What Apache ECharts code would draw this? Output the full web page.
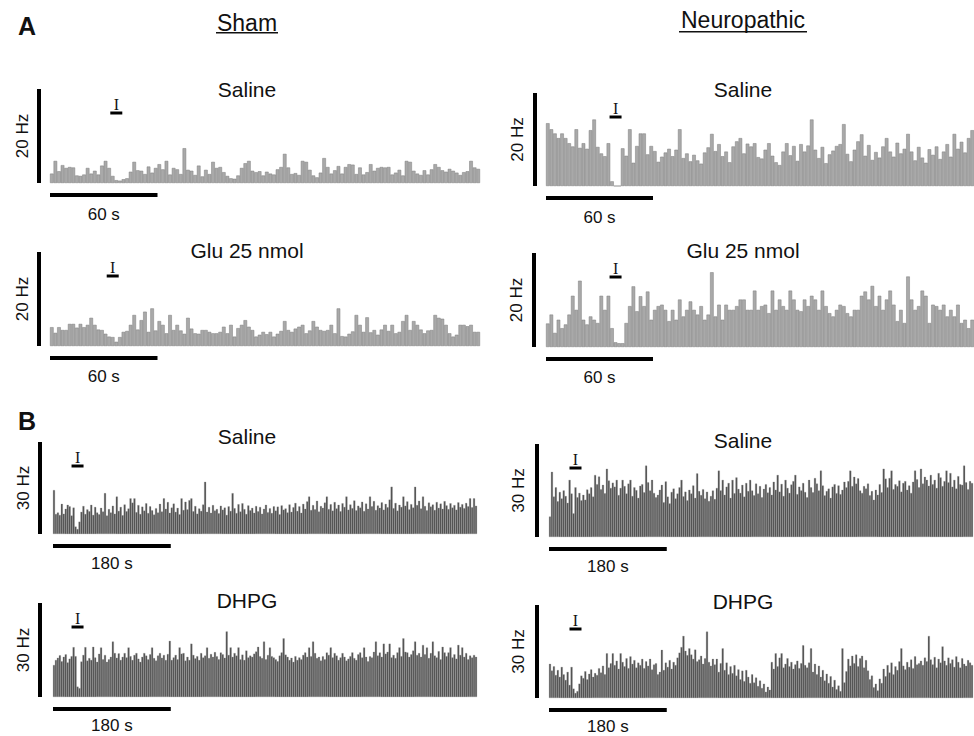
<!DOCTYPE html>
<html>
<head>
<meta charset="utf-8">
<script src="https://cdn.jsdelivr.net/npm/echarts@6.0.0/dist/echarts.min.js"></script>
<style>
  html, body { margin: 0; padding: 0; background: #fff; }
  #chart { width: 974px; height: 736px; }
</style>
</head>
<body>
<div id="chart"></div>
<script>
// firing rate (Hz) per bin, 2 s bins in A, 3 s bins in B
var shamSalineA = [
  2.0, 4.7, 2.5, 3.8, 3.2, 3.4, 3.3, 1.6, 1.5, 1.8,
  3.2, 2.0, 2.6, 1.8, 3.7, 4.7, 3.2, 1.5, 0.6, 0.5,
  0.8, 1.0, 2.4, 4.5, 2.7, 2.6, 1.9, 3.5, 2.2, 3.2,
  4.0, 2.9, 4.7, 1.8, 3.2, 2.9, 1.9, 7.4, 2.8, 2.6,
  1.7, 3.7, 1.4, 2.8, 1.9, 4.5, 3.2, 3.4, 2.3, 1.5,
  1.0, 0.9, 1.6, 3.2, 4.2, 4.7, 2.6, 2.3, 2.5, 1.6,
  2.4, 2.0, 1.8, 2.9, 3.4, 6.2, 3.3, 1.9, 2.1, 1.7,
  4.7, 4.5, 2.8, 1.6, 1.2, 2.2, 5.3, 3.4, 2.0, 2.7,
  3.6, 2.0, 3.4, 4.0, 3.9, 1.9, 3.3, 1.8, 2.3, 4.0,
  2.6, 3.2, 3.4, 3.3, 3.4, 1.8, 2.2, 2.8, 1.6, 4.7,
  4.5, 2.6, 2.0, 1.7, 2.7, 1.8, 2.9, 4.0, 3.4, 2.7,
  2.4, 3.0, 2.6, 2.2, 1.7, 2.3, 2.5, 4.7, 3.3, 3.0
];
var neuroSalineA = [
  13.5, 12.2, 11.3, 10.3, 11.3, 10.3, 9.2, 8.5, 12.2, 8.2,
  9.2, 8.0, 12.0, 14.3, 8.4, 7.0, 6.4, 9.2, 1.0, 0,
  0, 8.1, 6.5, 12.2, 5.0, 8.6, 11.3, 11.3, 6.8, 8.6,
  7.5, 5.2, 6.3, 7.2, 8.0, 6.4, 7.8, 12.2, 6.0, 7.0,
  5.3, 6.7, 5.5, 4.8, 7.2, 8.3, 11.2, 7.5, 9.0, 6.4,
  7.4, 5.1, 8.5, 9.6, 10.3, 7.0, 9.1, 8.5, 9.2, 6.2,
  5.9, 7.8, 9.2, 6.5, 5.1, 4.5, 7.4, 9.2, 6.6, 8.6,
  5.4, 9.0, 7.4, 8.7, 14.3, 7.8, 6.0, 8.4, 4.9, 6.8,
  7.6, 8.6, 9.0, 13.3, 6.9, 5.3, 7.8, 9.6, 11.1, 6.5,
  8.8, 5.6, 7.3, 6.1, 8.5, 10.3, 7.4, 6.3, 9.3, 7.0,
  8.0, 11.2, 7.4, 5.5, 8.4, 6.1, 5.0, 7.9, 6.7, 8.5,
  5.8, 7.4, 9.0, 6.3, 11.2, 8.0, 9.5, 7.2, 10.3, 12.0
];
var shamGluA = [
  4.0, 2.8, 4.0, 3.4, 3.4, 4.7, 4.7, 3.9, 4.7, 4.0,
  4.5, 6.0, 4.5, 3.5, 3.4, 2.6, 2.0, 1.9, 0.9, 1.9,
  3.0, 3.2, 4.5, 6.6, 3.5, 5.5, 7.3, 3.0, 8.0, 3.3,
  5.3, 4.5, 2.7, 6.6, 3.4, 4.5, 3.3, 2.6, 6.0, 3.7,
  2.7, 2.6, 3.4, 3.4, 3.0, 2.7, 2.7, 3.0, 4.1, 2.7,
  4.5, 2.0, 3.8, 4.5, 5.5, 4.1, 3.4, 2.0, 2.4, 3.0,
  2.5, 3.0, 2.0, 2.6, 3.2, 5.3, 3.4, 3.0, 3.7, 4.1,
  4.5, 2.7, 3.3, 5.3, 4.1, 3.4, 3.2, 3.4, 4.5, 2.7,
  8.0, 2.1, 2.0, 2.6, 3.1, 6.6, 4.5, 3.0, 6.1, 2.9,
  3.4, 2.4, 3.5, 4.5, 3.2, 4.5, 2.7, 3.0, 5.3, 6.6,
  3.4, 5.3, 4.5, 3.5, 2.7, 3.3, 3.4, 6.6, 6.0, 5.8,
  4.5, 2.7, 2.0, 2.4, 4.5, 4.5, 4.2, 4.5, 3.0, 3.0
];
var neuroGluA = [
  5.0, 6.9, 3.0, 5.8, 4.0, 4.8, 6.9, 10.9, 7.9, 14.1,
  5.8, 4.8, 6.5, 5.8, 5.1, 10.9, 7.9, 10.9, 4.0, 1.0,
  0.8, 0.8, 5.1, 8.7, 12.9, 7.6, 10.8, 8.7, 11.8, 5.8,
  7.9, 8.7, 9.0, 7.9, 5.5, 7.9, 5.8, 10.1, 6.5, 7.9,
  9.7, 7.9, 6.9, 8.7, 5.8, 6.9, 15.9, 6.5, 9.0, 5.8,
  9.0, 7.9, 7.9, 8.7, 10.1, 10.1, 7.9, 7.9, 12.0, 7.9,
  8.7, 9.0, 7.2, 12.0, 7.9, 10.1, 8.7, 7.9, 12.0, 10.1,
  7.9, 7.6, 10.1, 8.7, 10.9, 10.1, 7.9, 12.0, 8.7, 7.2,
  6.5, 7.9, 9.0, 8.7, 7.2, 6.5, 7.9, 7.9, 10.9, 11.8,
  10.1, 13.0, 8.7, 10.9, 7.9, 10.1, 12.0, 9.0, 5.5, 7.9,
  5.1, 15.0, 10.1, 7.9, 8.7, 12.0, 10.9, 5.1, 9.0, 8.7,
  7.9, 9.0, 6.5, 7.9, 6.5, 9.0, 5.1, 5.8, 4.0, 5.8
];
var shamSalineB = [
  14.3, 6.5, 7.0, 6.2, 9.8, 6.6, 8.2, 9.5, 9.0, 6.0, 8.6, 2.4,
  1.6, 4.0, 7.2, 9.1, 6.5, 8.0, 7.4, 9.5, 6.2, 8.8, 7.0, 6.4,
  8.5, 7.3, 13.3, 6.0, 8.1, 7.0, 9.2, 6.6, 12.2, 7.5, 8.8, 6.1,
  9.6, 7.4, 8.3, 11.6, 10.2, 11.6, 7.1, 9.4, 6.5, 8.9, 7.6, 10.0,
  6.8, 9.0, 7.7, 6.3, 8.4, 7.0, 9.8, 7.3, 11.6, 8.2, 10.4, 6.9,
  8.6, 9.9, 7.2, 8.5, 6.4, 11.6, 7.8, 10.5, 8.0, 11.0, 11.6, 7.4,
  9.1, 6.6, 8.3, 7.5, 9.6, 17.0, 7.2, 8.8, 6.9, 9.4, 7.6, 8.1,
  6.7, 9.2, 7.9, 8.6, 6.2, 9.0, 7.5, 13.3, 8.4, 6.8, 9.7, 7.3,
  10.0, 8.1, 6.5, 9.3, 7.7, 8.5, 6.9, 9.1, 7.4, 8.8, 6.6, 8.2,
  9.5, 7.1, 8.4, 6.8, 9.0, 7.6, 8.9, 6.4, 9.3, 7.9, 8.3, 7.0,
  9.6, 7.2, 8.7, 10.1, 7.5, 9.0, 6.9, 9.8, 8.2, 10.6, 12.2, 7.8,
  9.4, 8.0, 10.8, 7.3, 9.1, 8.5, 10.2, 12.2, 8.1, 9.7, 7.6, 10.4,
  8.3, 9.5, 7.4, 10.0, 8.8, 12.2, 7.9, 9.6, 8.4, 10.9, 7.7, 9.2,
  8.6, 10.5, 7.5, 9.9, 8.2, 12.2, 9.0, 10.7, 7.8, 9.3, 8.5, 10.3,
  7.9, 9.8, 8.7, 11.2, 15.4, 8.4, 10.1, 7.6, 9.5, 8.8, 12.2, 9.2,
  10.6, 8.0, 9.7, 8.6, 15.4, 9.4, 10.8, 8.3, 12.2, 9.1, 7.7, 10.2,
  8.9, 9.6, 7.8, 10.4, 8.5, 9.9, 8.2, 10.7, 9.3, 8.1, 10.0, 8.6,
  9.4, 7.9, 10.3, 8.8, 9.7, 8.4, 10.1, 9.0, 11.6, 8.7, 11.6, 9.2
];
var neuroSalineB = [
  6.6, 21.0, 13.0, 16.0, 11.5, 14.5, 12.4, 15.0, 13.2, 11.0, 18.4, 14.0,
  7.6, 16.0, 12.8, 14.2, 11.8, 13.6, 12.0, 15.3, 14.0, 16.0, 13.0, 20.0,
  17.0, 19.5, 15.4, 16.8, 14.1, 22.0, 18.2, 15.8, 17.5, 16.2, 18.4, 13.5,
  15.8, 18.4, 16.4, 14.0, 17.2, 18.4, 13.2, 16.0, 15.1, 12.6, 16.5, 17.0,
  14.4, 23.0, 17.6, 15.0, 18.4, 14.2, 12.8, 13.6, 15.2, 16.8, 11.2, 17.9,
  13.0, 10.8, 14.5, 15.6, 12.4, 14.0, 16.0, 18.4, 13.1, 14.6, 11.8, 15.2,
  14.0, 16.6, 12.6, 20.5, 14.8, 13.5, 15.4, 12.4, 14.6, 11.6, 13.2, 15.0,
  12.2, 15.8, 21.4, 15.0, 18.4, 13.6, 16.2, 17.4, 12.6, 18.4, 14.1, 19.2,
  15.5, 14.2, 16.8, 13.0, 17.4, 14.8, 18.4, 15.0, 13.4, 17.2, 14.0, 16.4,
  12.8, 15.5, 17.0, 14.3, 16.0, 13.6, 17.8, 15.2, 20.0, 14.6, 17.1, 13.2,
  18.4, 15.8, 14.2, 16.9, 18.0, 20.0, 13.8, 16.2, 15.0, 17.4, 14.5, 12.8,
  18.4, 16.0, 14.4, 19.0, 17.2, 15.0, 21.4, 16.6, 13.4, 14.8, 15.6, 12.6,
  16.2, 17.0, 14.1, 16.6, 13.8, 15.2, 17.8, 16.0, 18.0, 21.4, 16.4, 19.4,
  17.2, 18.9, 15.0, 14.2, 16.4, 15.6, 17.2, 13.4, 14.8, 12.0, 15.2, 13.6,
  17.0, 14.4, 22.0, 18.8, 16.0, 19.0, 21.4, 15.4, 17.0, 16.4, 18.2, 14.6,
  17.4, 18.0, 15.2, 16.6, 14.2, 17.8, 21.4, 18.6, 16.0, 22.0, 17.2, 19.4,
  18.4, 16.5, 20.0, 17.0, 18.4, 15.8, 20.6, 19.2, 16.4, 18.0, 21.4, 17.6,
  20.6, 16.2, 18.4, 15.6, 19.6, 17.0, 16.8, 23.0, 17.6, 15.4, 18.0, 17.4
];
var shamDhpgB = [
  10.2, 11.8, 12.5, 13.3, 11.4, 12.8, 13.6, 11.0, 12.2, 13.0, 15.9, 13.0,
  3.3, 2.8, 11.3, 13.4, 15.9, 11.6, 12.4, 11.8, 16.0, 12.6, 11.2, 13.8,
  15.8, 12.0, 13.4, 11.2, 12.0, 12.8, 17.7, 14.0, 12.5, 13.9, 11.8, 12.8,
  14.0, 12.6, 15.8, 13.0, 11.8, 13.4, 14.0, 12.2, 11.2, 12.8, 14.0, 13.2,
  12.0, 13.6, 15.8, 12.4, 11.6, 13.2, 14.0, 12.5, 13.4, 11.8, 13.7, 17.9,
  11.8, 12.6, 13.4, 12.0, 15.8, 13.8, 14.0, 11.6, 12.8, 11.8, 17.0, 13.4,
  12.3, 13.0, 11.8, 14.0, 12.6, 13.2, 15.8, 12.4, 13.7, 12.8, 14.3, 13.0,
  12.0, 14.2, 13.6, 12.5, 20.9, 13.4, 15.8, 12.8, 14.0, 13.2, 15.8, 12.0,
  13.5, 11.8, 14.8, 12.6, 13.2, 12.8, 13.8, 14.5, 16.0, 13.0, 12.4, 17.7,
  12.0, 13.4, 15.8, 13.0, 12.6, 12.0, 11.4, 13.2, 14.2, 18.7, 13.5, 12.8,
  11.8, 12.5, 11.2, 13.0, 11.8, 12.6, 12.0, 13.4, 14.2, 12.8, 15.8, 13.0,
  17.7, 14.0, 12.4, 12.8, 11.6, 13.0, 12.0, 14.2, 13.4, 15.8, 12.6, 14.0,
  13.2, 11.8, 12.6, 14.0, 12.8, 11.6, 12.2, 13.0, 14.2, 12.4, 11.8, 13.6,
  14.2, 12.6, 15.8, 12.8, 11.4, 13.0, 12.6, 14.4, 17.7, 13.2, 14.2, 12.8,
  17.0, 13.8, 14.4, 17.0, 12.6, 13.4, 12.4, 14.2, 15.8, 13.0, 18.7, 14.4,
  14.2, 12.8, 13.6, 14.8, 17.7, 13.4, 14.0, 12.8, 16.6, 13.6, 15.8, 12.4,
  14.0, 17.7, 13.2, 12.6, 14.6, 12.0, 16.0, 14.2, 13.0, 14.2, 15.8, 12.6,
  13.6, 12.2, 16.6, 13.4, 15.8, 12.8, 14.0, 12.0, 13.2, 12.6, 13.4, 12.8
];
var neuroDhpgB = [
  11.0, 8.8, 10.2, 7.4, 9.0, 6.8, 10.0, 7.6, 5.8, 8.4, 4.2, 10.0,
  3.0, 1.6, 2.2, 4.6, 7.2, 6.4, 8.6, 6.0, 7.8, 9.2, 6.8, 8.0,
  7.4, 9.6, 8.2, 10.4, 7.6, 14.4, 9.8, 11.2, 14.4, 10.6, 12.0, 9.4,
  14.4, 11.6, 10.2, 12.8, 9.6, 13.4, 11.0, 12.2, 9.8, 11.4, 10.6, 12.6,
  9.6, 11.8, 10.4, 12.6, 9.2, 10.8, 11.2, 7.6, 8.4, 15.5, 9.0, 11.4,
  10.0, 12.2, 9.4, 11.6, 10.6, 13.0, 14.6, 16.4, 20.0, 15.2, 13.8, 16.0,
  14.0, 12.6, 15.6, 11.8, 12.4, 13.6, 11.0, 12.8, 21.4, 11.6, 10.4, 12.6,
  10.8, 12.6, 8.4, 11.2, 16.0, 9.0, 11.4, 7.6, 10.2, 8.0, 10.6, 7.2,
  9.2, 6.0, 8.8, 5.4, 9.0, 6.8, 4.8, 7.6, 5.0, 6.6, 3.8, 5.6,
  3.2, 4.6, 2.0, 3.6, 2.6, 11.6, 9.4, 14.4, 10.2, 13.0, 14.4, 9.8,
  11.0, 12.8, 10.2, 11.6, 9.4, 10.8, 12.0, 9.6, 11.2, 17.0, 10.6, 9.8,
  11.4, 16.0, 8.4, 11.0, 7.6, 10.4, 6.8, 9.0, 5.6, 7.8, 4.8, 7.0,
  3.6, 5.8, 2.8, 4.0, 2.2, 16.0, 5.0, 8.6, 12.6, 10.4, 13.6, 11.2,
  14.0, 10.2, 12.8, 13.6, 9.8, 12.2, 8.8, 6.0, 7.2, 3.4, 4.6, 2.4,
  6.2, 4.8, 9.4, 7.0, 10.6, 8.2, 11.4, 7.6, 10.2, 9.0, 11.8, 16.0,
  10.4, 9.2, 11.6, 10.0, 12.4, 9.6, 13.4, 10.8, 11.2, 12.0, 10.6, 13.0,
  11.8, 20.0, 12.4, 10.8, 13.2, 9.8, 12.6, 11.4, 16.6, 12.0, 10.6, 13.0,
  11.2, 12.4, 10.0, 13.4, 11.6, 9.8, 12.8, 11.0, 10.4, 12.2, 11.4, 10.6
];

var FONT = '"Liberation Sans", Arial, sans-serif';

var panels = [
  { values: shamSalineA, title: 'Saline', titleX: 247, titleY: 89, left: 50, top: 89, width: 430, height: 94,
    yMax: 20, yName: '20 Hz', axisOffset: 11, nameGap: 8, binSec: 2, scaleSec: 60, scaleLabel: '60 s', labelGap: 19, inj: 18, dark: false },
  { values: neuroSalineA, title: 'Saline', titleX: 743, titleY: 89, left: 546, top: 93, width: 428, height: 93,
    yMax: 20, yName: '20 Hz', axisOffset: 11, nameGap: 9, binSec: 2, scaleSec: 60, scaleLabel: '60 s', labelGap: 19, inj: 19, dark: false },
  { values: shamGluA, title: 'Glu 25 nmol', titleX: 247, titleY: 250, left: 50, top: 252, width: 430, height: 94,
    yMax: 20, yName: '20 Hz', axisOffset: 11, nameGap: 8, binSec: 2, scaleSec: 60, scaleLabel: '60 s', labelGap: 18, inj: 17, dark: false },
  { values: neuroGluA, title: 'Glu 25 nmol', titleX: 743, titleY: 250, left: 546, top: 253, width: 428, height: 94,
    yMax: 20, yName: '20 Hz', axisOffset: 12, nameGap: 9, binSec: 2, scaleSec: 60, scaleLabel: '60 s', labelGap: 18, inj: 19, dark: false },
  { values: shamSalineB, title: 'Saline', titleX: 247, titleY: 436, left: 53, top: 442, width: 424, height: 92,
    yMax: 30, yName: '30 Hz', axisOffset: 13, nameGap: 8, binSec: 3, scaleSec: 180, scaleLabel: '180 s', labelGap: 17, inj: 12, dark: true },
  { values: neuroSalineB, title: 'Saline', titleX: 743, titleY: 440, left: 549, top: 444, width: 424, height: 93,
    yMax: 30, yName: '30 Hz', axisOffset: 12, nameGap: 10, binSec: 3, scaleSec: 180, scaleLabel: '180 s', labelGap: 17, inj: 13, dark: true },
  { values: shamDhpgB, title: 'DHPG', titleX: 247, titleY: 600, left: 53, top: 603, width: 424, height: 94,
    yMax: 30, yName: '30 Hz', axisOffset: 13, nameGap: 8, binSec: 3, scaleSec: 180, scaleLabel: '180 s', labelGap: 16, inj: 12, dark: true },
  { values: neuroDhpgB, title: 'DHPG', titleX: 743, titleY: 601, left: 549, top: 605, width: 424, height: 93,
    yMax: 30, yName: '30 Hz', axisOffset: 12, nameGap: 10, binSec: 3, scaleSec: 180, scaleLabel: '180 s', labelGap: 16, inj: 13, dark: true }
];

var chart = echarts.init(document.getElementById('chart'), null, { renderer: 'svg' });

var option = {
  backgroundColor: '#fff',
  animation: false,
  grid: panels.map(function (p) {
    return { left: p.left, top: p.top, width: p.width, height: p.height, containLabel: false, outerBoundsMode: 'none' };
  }),
  xAxis: panels.map(function (p, i) {
    return {
      type: 'category',
      gridIndex: i,
      data: p.values.map(function (v, k) { return String(k * p.binSec); }),
      show: false
    };
  }),
  yAxis: panels.map(function (p, i) {
    return {
      type: 'value',
      gridIndex: i,
      min: 0,
      max: p.yMax,
      offset: p.axisOffset,
      axisLine: { show: true, lineStyle: { color: '#000', width: 4, cap: 'butt' } },
      axisTick: { show: false },
      axisLabel: { show: false },
      splitLine: { show: false },
      name: p.yName,
      nameLocation: 'middle',
      nameRotate: 90,
      nameGap: p.nameGap,
      nameTextStyle: { fontSize: 17, color: '#111', fontFamily: FONT }
    };
  }),
  series: panels.map(function (p, i) {
    return {
      type: 'bar',
      xAxisIndex: i,
      yAxisIndex: i,
      data: p.values,
      barCategoryGap: '0%',
      silent: true,
      itemStyle: p.dark
        ? { color: '#4f4f4f', borderColor: '#8c8c8c', borderWidth: 0.3 }
        : { color: '#a9a9a9', borderColor: '#7c7c7c', borderWidth: 0.5 }
    };
  })
};

chart.setOption(option);

function label(text, x, y, font, align, vAlign) {
  return {
    type: 'text', x: x, y: y, silent: true,
    style: { text: text, font: font, fill: '#111', align: align || 'center', verticalAlign: vAlign || 'middle' }
  };
}

var els = [];
els.push(label('A', 27, 26, 'bold 25px ' + FONT));
els.push(label('B', 27, 421, 'bold 25px ' + FONT));
els.push(label('Sham', 247, 23, '23px ' + FONT));
els.push({ type: 'rect', silent: true, shape: { x: 216, y: 32, width: 62, height: 1.5 }, style: { fill: '#111' } });
els.push(label('Neuropathic', 743, 20, '23px ' + FONT));
els.push({ type: 'rect', silent: true, shape: { x: 679, y: 31, width: 128, height: 1.5 }, style: { fill: '#111' } });

panels.forEach(function (p, i) {
  var c0 = chart.convertToPixel({ xAxisIndex: i }, 0);
  var c1 = chart.convertToPixel({ xAxisIndex: i }, 1);
  var bw = c1 - c0;
  var x0 = c0 - bw / 2;
  var yTop = chart.convertToPixel({ yAxisIndex: i }, p.yMax);
  var yBase = chart.convertToPixel({ yAxisIndex: i }, 0);
  // time scale bar
  var x1 = x0 + (p.scaleSec / p.binSec) * bw;
  var sy = yBase + 12;
  els.push({ type: 'rect', silent: true, shape: { x: x0, y: sy - 2, width: x1 - x0, height: 4 }, style: { fill: '#000' } });
  els.push(label(p.scaleLabel, (x0 + x1) / 2, sy + p.labelGap, '17px ' + FONT));
  // injection marker
  var ix = chart.convertToPixel({ xAxisIndex: i }, p.inj);
  var uy = yTop + 24;
  els.push({ type: 'rect', silent: true, shape: { x: ix - 6, y: uy - 1.5, width: 12, height: 3 }, style: { fill: '#000' } });
  els.push(label('I', ix, uy - 1, '16px "Liberation Serif", "Times New Roman", serif', 'center', 'bottom'));
  // panel title
  els.push(label(p.title, p.titleX, p.titleY, '21px ' + FONT));
});

chart.setOption({ graphic: { elements: els } });
</script>
</body>
</html>
